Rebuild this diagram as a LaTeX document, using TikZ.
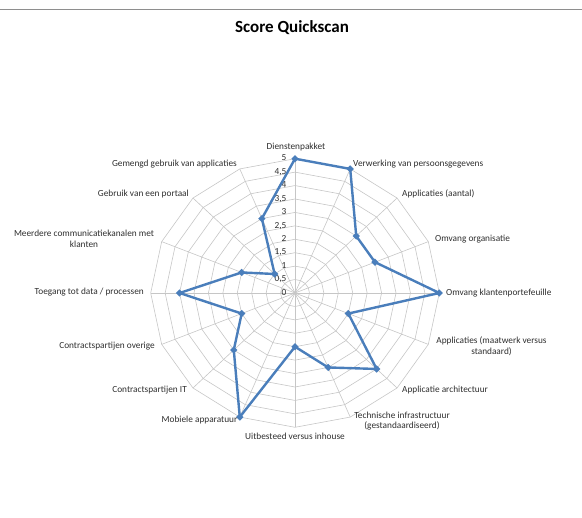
\documentclass[tikz,border=0pt]{standalone}
\usepackage{fontspec}
\setmainfont{Carlito}
\usetikzlibrary{shapes.geometric}
\definecolor{gridgray}{HTML}{C6C6C6}
\definecolor{rulegray}{HTML}{8E8E8E}
\definecolor{serieblue}{HTML}{4A7EBB}
\definecolor{labelgray}{HTML}{2E2E2E}
\begin{document}
\begin{tikzpicture}[x=1bp,y=-1bp,
  axislabel/.style={font=\fontsize{9.3bp}{10.5bp}\selectfont, text=labelgray,
    inner sep=0pt, text height=6.5bp, text depth=2bp},
  twoline/.style={font=\fontsize{9.3bp}{10.5bp}\selectfont, text=labelgray,
    inner sep=0pt, align=center},
  ticklabel/.style={font=\fontsize{9.3bp}{10.5bp}\selectfont, text=labelgray,
    inner sep=0pt, text height=6.5bp, text depth=2bp, anchor=east, xshift=-8.5bp},
  gridline/.style={draw=gridgray, line width=0.6bp},
  serie/.style={draw=serieblue, line width=2.4bp, line join=round},
  marker/.style={diamond, fill=serieblue, inner sep=0pt, minimum size=7.5bp}]
  \useasboundingbox (0,0) rectangle (582,518);

  % page rule and title
  \coordinate (ruleL) at (0,9.5);
  \coordinate (ruleR) at (582,9.5);
  \draw[rulegray, line width=1.1bp] (ruleL) -- (ruleR);
  \node[font=\fontsize{17bp}{20bp}\selectfont\bfseries, inner sep=0pt] (title) at (292,28) {Score Quickscan};

  % radar chart: 16 axes, scale 0..5 in steps of 0.5
  \begin{scope}[shift={(295,293)}, x=28.86bp, y=26.86bp]
    \coordinate (center) at (0,0);
    \foreach \r in {0.5,1,...,5}
      \draw[gridline] (90:\r) \foreach \k in {1,...,15}{ -- (90-22.5*\k:\r)} -- cycle;
    \foreach \k in {0,...,15}
      \draw[gridline] (center) -- (90-22.5*\k:5);

    \foreach \v/\t [count=\i] in {0/0,0.5/{0,5},1/1,1.5/{1,5},2/2,2.5/{2,5},3/3,3.5/{3,5},4/4,4.5/{4,5},5/5}
      \node[ticklabel] (tick\i) at (0,\v) {\t};

    \foreach \v [count=\i from 0] in {5,5,3,3,5,2,4,3,2,5,3,2,4,2,1,3}
      \coordinate (p\i) at (90-22.5*\i:\v);
    \draw[serie] (p0) -- (p1) -- (p2) -- (p3) -- (p4) -- (p5) -- (p6) -- (p7)
      -- (p8) -- (p9) -- (p10) -- (p11) -- (p12) -- (p13) -- (p14) -- (p15) -- cycle;
    \foreach \i in {0,...,15}
      \node[marker] (m\i) at (p\i) {};
  \end{scope}

  % axis labels
  \node[axislabel] (a0) at (296,147) {Dienstenpakket};
  \node[axislabel, anchor=west] (a1) at (353,164) {Verwerking van persoonsgegevens};
  \node[axislabel, anchor=west] (a2) at (402,194) {Applicaties (aantal)};
  \node[axislabel, anchor=west] (a3) at (435,239.5) {Omvang organisatie};
  \node[axislabel, anchor=west] (a4) at (446,293) {Omvang klantenportefeuille};
  \node[twoline] (a5) at (491.5,346) {Applicaties (maatwerk versus\\standaard)};
  \node[axislabel, anchor=west] (a6) at (402,390) {Applicatie architectuur};
  \node[twoline] (a7) at (402,421) {Technische infrastructuur\\(gestandaardiseerd)};
  \node[axislabel] (a8) at (295,437) {Uitbesteed versus inhouse};
  \node[axislabel, anchor=east] (a9) at (237.5,420) {Mobiele apparatuur};
  \node[axislabel, anchor=east] (a10) at (187,390) {Contractspartijen IT};
  \node[axislabel, anchor=east] (a11) at (155,346) {Contractspartijen overige};
  \node[axislabel, anchor=east] (a12) at (144,292.5) {Toegang tot data / processen};
  \node[twoline] (a13) at (84,239) {Meerdere communicatiekanalen met\\klanten};
  \node[axislabel, anchor=east] (a14) at (189,194) {Gebruik van een portaal};
  \node[axislabel, anchor=east] (a15) at (237,164) {Gemengd gebruik van applicaties};
\end{tikzpicture}
\end{document}
